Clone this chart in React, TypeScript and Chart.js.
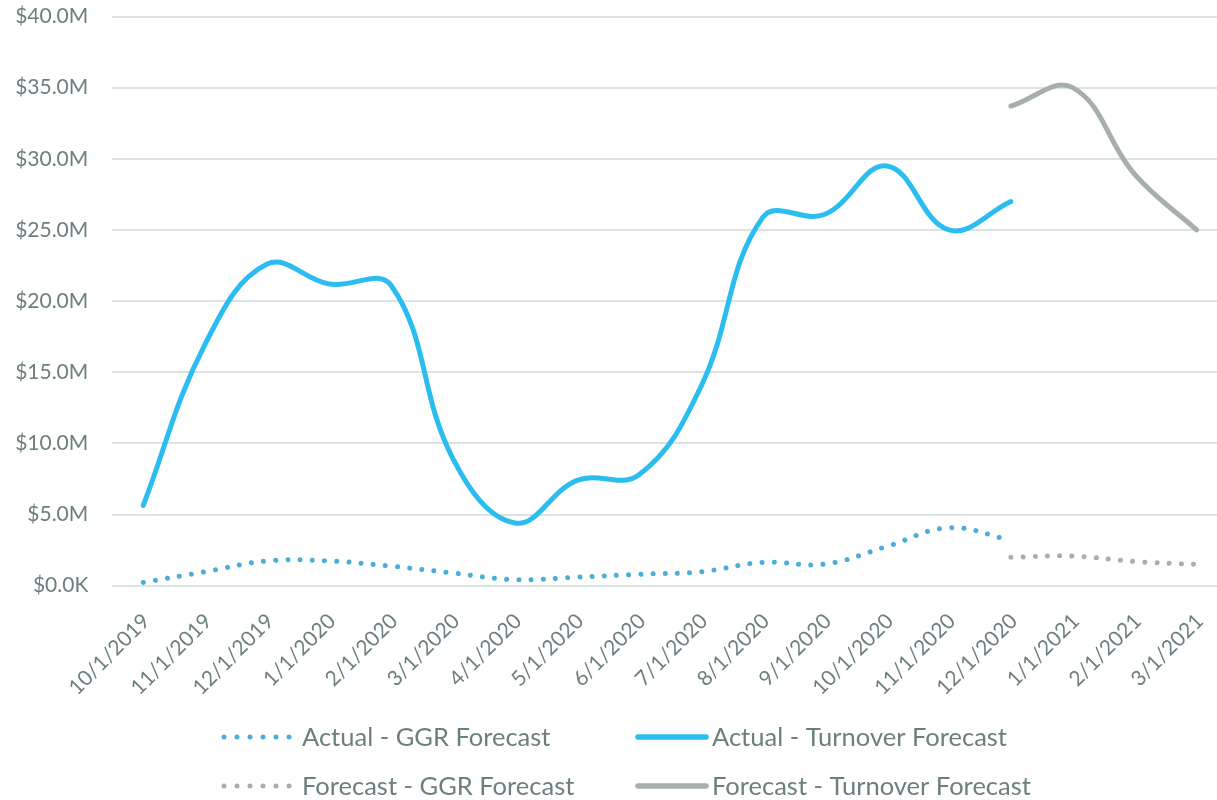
import React, { useEffect, useRef } from "react";
import { Chart, registerables } from "chart.js";

Chart.register(...registerables);

const categories = [
  "10/1/2019", "11/1/2019", "12/1/2019", "1/1/2020", "2/1/2020", "3/1/2020",
  "4/1/2020", "5/1/2020", "6/1/2020", "7/1/2020", "8/1/2020", "9/1/2020",
  "10/1/2020", "11/1/2020", "12/1/2020", "1/1/2021", "2/1/2021", "3/1/2021",
];

// values in $ millions
const actualGGR = [0.23, 0.98, 1.74, 1.74, 1.37, 0.89, 0.42, 0.6, 0.8, 0.98, 1.64, 1.52, 2.76, 4.07, 3.2, null, null, null];
const actualTurnover = [5.65, 17.0, 22.6, 21.2, 21.1, 8.9, 4.4, 7.4, 7.8, 14.0, 25.9, 26.1, 29.5, 25.0, 27.0, null, null, null];
const forecastGGR = [null, null, null, null, null, null, null, null, null, null, null, null, null, null, 2.0, 2.08, 1.7, 1.5];
const forecastTurnover = [null, null, null, null, null, null, null, null, null, null, null, null, null, null, 33.7, 35.0, 28.9, 25.0];

const yTicks = [0, 5, 10, 15, 20, 25, 30, 35, 40];

const seriesLabels = [
  "Actual - GGR Forecast",
  "Actual - Turnover Forecast",
  "Forecast - GGR Forecast",
  "Forecast - Turnover Forecast",
];

const TEXT = "#6c7f7f";
const BLUE = "#2bbdf0";
const BLUE_DOT = "#4aaed6";
const GRAY = "#a7afad";
const GRID = "#dde3e3";
const FONT = "Lato";

const legendItems = [
  { label: seriesLabels[0], color: BLUE_DOT, dotted: true, col: 0, row: 0 },
  { label: seriesLabels[1], color: BLUE, dotted: false, col: 1, row: 0 },
  { label: seriesLabels[2], color: GRAY, dotted: true, col: 0, row: 1 },
  { label: seriesLabels[3], color: GRAY, dotted: false, col: 1, row: 1 },
];

const legendPlugin = {
  id: "gridLegend",
  afterDraw(chart: any) {
    const ctx = chart.ctx as CanvasRenderingContext2D;
    const colX = [224, 638];
    const colText = [302, 712];
    const rowY = [737, 786];
    ctx.save();
    legendItems.forEach((it) => {
      const y = rowY[it.row];
      const x0 = colX[it.col];
      ctx.beginPath();
      ctx.strokeStyle = it.color;
      ctx.lineCap = "round";
      if (it.dotted) {
        ctx.lineWidth = 5;
        ctx.setLineDash([0.01, 13]);
        ctx.moveTo(x0, y);
        ctx.lineTo(x0 + 66, y);
      } else {
        ctx.lineWidth = 5.5;
        ctx.setLineDash([]);
        ctx.moveTo(x0, y);
        ctx.lineTo(x0 + 68, y);
      }
      ctx.stroke();
      ctx.setLineDash([]);
      ctx.fillStyle = TEXT;
      ctx.font = `25.5px ${FONT}`;
      ctx.textAlign = "left";
      ctx.textBaseline = "middle";
      ctx.fillText(it.label, colText[it.col], y + 1);
    });
    ctx.restore();
  },
};

export default function App() {
  const ref = useRef<HTMLCanvasElement | null>(null);

  useEffect(() => {
    if (!ref.current) return;
    const chart = new Chart(ref.current, {
      type: "line",
      data: {
        labels: categories,
        datasets: [
          {
            label: seriesLabels[0],
            data: actualGGR,
            borderColor: BLUE_DOT,
            borderWidth: 5,
            borderDash: [0.01, 12.2],
            borderCapStyle: "round",
            pointRadius: 0,
            tension: 0.4,
            fill: false,
          },
          {
            label: seriesLabels[1],
            data: actualTurnover,
            borderColor: BLUE,
            borderWidth: 5,
            borderCapStyle: "round",
            borderJoinStyle: "round",
            pointRadius: 0,
            tension: 0.4,
            fill: false,
          },
          {
            label: seriesLabels[2],
            data: forecastGGR,
            borderColor: GRAY,
            borderWidth: 5,
            borderDash: [0.01, 12.2],
            borderCapStyle: "round",
            pointRadius: 0,
            tension: 0.4,
            fill: false,
          },
          {
            label: seriesLabels[3],
            data: forecastTurnover,
            borderColor: GRAY,
            borderWidth: 5,
            borderCapStyle: "round",
            borderJoinStyle: "round",
            pointRadius: 0,
            tension: 0.4,
            fill: false,
          },
        ],
      },
      options: {
        responsive: false,
        animation: false,
        devicePixelRatio: 1,
        layout: { padding: { top: 16.5, right: 12.3, bottom: 104.3, left: 0 } },
        plugins: {
          legend: { display: false },
          tooltip: { enabled: false },
        },
        scales: {
          x: {
            offset: true,
            grid: { display: false, drawTicks: false },
            border: { display: false },
            ticks: {
              autoSkip: false,
              maxRotation: 45,
              minRotation: 45,
              padding: 23,
              labelOffset: 3,
              color: TEXT,
              font: { family: FONT, size: 21 },
            },
            afterFit: (s: any) => {
              s.height = 110;
            },
          },
          y: {
            min: 0,
            max: 40,
            afterBuildTicks: (s: any) => {
              s.ticks = yTicks.map((v) => ({ value: v }));
            },
            grid: {
              color: GRID,
              lineWidth: 2,
              drawTicks: true,
              tickLength: 24,
              tickColor: "rgba(0,0,0,0)",
            },
            border: { display: false },
            ticks: {
              padding: 0,
              color: TEXT,
              font: { family: FONT, size: 21 },
              callback: (v: any) => (Number(v) === 0 ? "$0.0K" : `$${Number(v).toFixed(1)}M`),
            },
            afterFit: (s: any) => {
              s.width = 112.3;
            },
          },
        },
      },
      plugins: [legendPlugin],
    });
    return () => chart.destroy();
  }, []);

  return (
    <div
      style={{
        position: "fixed",
        left: 0,
        top: 0,
        width: 1217,
        height: 800,
        overflow: "hidden",
        background: "#ffffff",
      }}
    >
      <canvas ref={ref} width={1240} height={800} style={{ display: "block" }} />
    </div>
  );
}
